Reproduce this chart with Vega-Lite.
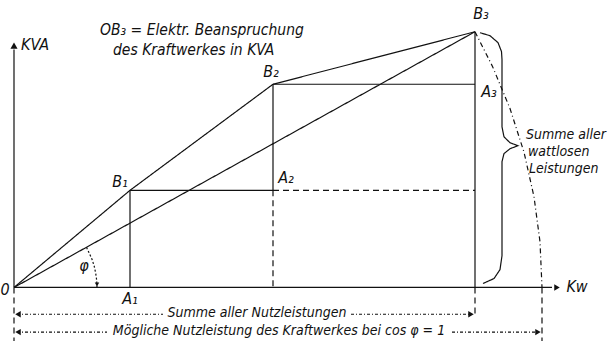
{
  "$schema": "https://vega.github.io/schema/vega-lite/v6.json",
  "width": 614,
  "height": 344,
  "autosize": {"type": "fit", "contains": "padding"},
  "padding": 0,
  "background": "white",
  "config": {"view": {"stroke": null}},
  "datasets": {
    "lines": [
      {"role": "main", "id": "OB", "ord": 0, "x": 0, "y": 0},
      {"role": "main", "id": "OB", "ord": 1, "x": 116, "y": 98},
      {"role": "main", "id": "OB", "ord": 2, "x": 259, "y": 205},
      {"role": "main", "id": "OB", "ord": 3, "x": 461, "y": 258},
      {"role": "main", "id": "OB3", "ord": 0, "x": 0, "y": 0},
      {"role": "main", "id": "OB3", "ord": 1, "x": 461, "y": 258},
      {"role": "main", "id": "xaxis", "ord": 0, "x": 0, "y": 0},
      {"role": "main", "id": "xaxis", "ord": 1, "x": 538, "y": 0},
      {"role": "main", "id": "yaxis", "ord": 0, "x": 0, "y": 0},
      {"role": "main", "id": "yaxis", "ord": 1, "x": 0, "y": 240},
      {"role": "main", "id": "B1A1", "ord": 0, "x": 116, "y": 98},
      {"role": "main", "id": "B1A1", "ord": 1, "x": 116, "y": 0},
      {"role": "main", "id": "B1A2", "ord": 0, "x": 116, "y": 98},
      {"role": "main", "id": "B1A2", "ord": 1, "x": 259, "y": 98},
      {"role": "main", "id": "B2A2", "ord": 0, "x": 259, "y": 205},
      {"role": "main", "id": "B2A2", "ord": 1, "x": 259, "y": 98},
      {"role": "main", "id": "B2A3", "ord": 0, "x": 259, "y": 205},
      {"role": "main", "id": "B2A3", "ord": 1, "x": 461, "y": 205},
      {"role": "main", "id": "B3X", "ord": 0, "x": 461, "y": 258},
      {"role": "main", "id": "B3X", "ord": 1, "x": 461, "y": 0},
      {"role": "dashed", "id": "A2A3", "ord": 0, "x": 259, "y": 98},
      {"role": "dashed", "id": "A2A3", "ord": 1, "x": 461, "y": 98},
      {"role": "dashed", "id": "A2X", "ord": 0, "x": 259, "y": 98},
      {"role": "dashed", "id": "A2X", "ord": 1, "x": 259, "y": 0},
      {"role": "dashed", "id": "ext0", "ord": 0, "x": 0, "y": 0},
      {"role": "dashed", "id": "ext0", "ord": 1, "x": 0, "y": -54},
      {"role": "dashed", "id": "ext3", "ord": 0, "x": 461, "y": 0},
      {"role": "dashed", "id": "ext3", "ord": 1, "x": 461, "y": -30},
      {"role": "dashed", "id": "extR", "ord": 0, "x": 528, "y": 0},
      {"role": "dashed", "id": "extR", "ord": 1, "x": 528, "y": -54},
      {"role": "arc", "id": "arcB3", "ord": 0, "x": 461, "y": 258},
      {"role": "arc", "id": "arcB3", "ord": 1, "x": 478.5, "y": 223},
      {"role": "arc", "id": "arcB3", "ord": 2, "x": 496, "y": 180.5},
      {"role": "arc", "id": "arcB3", "ord": 3, "x": 510, "y": 136.5},
      {"role": "arc", "id": "arcB3", "ord": 4, "x": 520, "y": 91.5},
      {"role": "arc", "id": "arcB3", "ord": 5, "x": 526, "y": 46},
      {"role": "arc", "id": "arcB3", "ord": 6, "x": 528, "y": 0},
      {"role": "phi", "id": "phi", "ord": 0, "x": 72.5, "y": 40.5},
      {"role": "phi", "id": "phi", "ord": 1, "x": 76, "y": 33},
      {"role": "phi", "id": "phi", "ord": 2, "x": 78, "y": 28.4},
      {"role": "phi", "id": "phi", "ord": 3, "x": 80.2, "y": 21.5},
      {"role": "phi", "id": "phi", "ord": 4, "x": 81.7, "y": 14.4},
      {"role": "phi", "id": "phi", "ord": 5, "x": 82.7, "y": 7.2},
      {"role": "phi", "id": "phi", "ord": 6, "x": 83, "y": 0},
      {"role": "brace", "id": "brace", "ord": 0, "x": 466, "y": 257},
      {"role": "brace", "id": "brace", "ord": 1, "x": 476, "y": 254},
      {"role": "brace", "id": "brace", "ord": 2, "x": 484, "y": 247},
      {"role": "brace", "id": "brace", "ord": 3, "x": 487.5, "y": 238},
      {"role": "brace", "id": "brace", "ord": 4, "x": 488, "y": 230},
      {"role": "brace", "id": "brace", "ord": 5, "x": 488, "y": 162},
      {"role": "brace", "id": "brace", "ord": 6, "x": 490, "y": 152},
      {"role": "brace", "id": "brace", "ord": 7, "x": 496, "y": 146},
      {"role": "brace", "id": "brace", "ord": 8, "x": 504, "y": 143},
      {"role": "brace", "id": "brace", "ord": 9, "x": 496, "y": 140},
      {"role": "brace", "id": "brace", "ord": 10, "x": 490, "y": 135},
      {"role": "brace", "id": "brace", "ord": 11, "x": 488, "y": 127},
      {"role": "brace", "id": "brace", "ord": 12, "x": 488, "y": 32},
      {"role": "brace", "id": "brace", "ord": 13, "x": 486, "y": 18},
      {"role": "brace", "id": "brace", "ord": 14, "x": 480, "y": 9},
      {"role": "brace", "id": "brace", "ord": 15, "x": 469, "y": 4},
      {"role": "dim", "id": "d1a", "ord": 0, "x": 3, "y": -27},
      {"role": "dim", "id": "d1a", "ord": 1, "x": 149, "y": -27},
      {"role": "dim", "id": "d1b", "ord": 0, "x": 337, "y": -27},
      {"role": "dim", "id": "d1b", "ord": 1, "x": 458, "y": -27},
      {"role": "dim", "id": "d2a", "ord": 0, "x": 3, "y": -45},
      {"role": "dim", "id": "d2a", "ord": 1, "x": 93, "y": -45},
      {"role": "dim", "id": "d2b", "ord": 0, "x": 438, "y": -45},
      {"role": "dim", "id": "d2b", "ord": 1, "x": 525, "y": -45}
    ],
    "arrows": [
      {"dir": "right", "x": 543, "y": 0},
      {"dir": "right", "x": 457, "y": -27},
      {"dir": "right", "x": 524, "y": -45},
      {"dir": "left", "x": 4, "y": -27},
      {"dir": "left", "x": 4, "y": -45},
      {"dir": "up", "x": 0, "y": 244},
      {"dir": "down", "x": 83, "y": 3}
    ],
    "labels": [
      {"label": "0", "x": -9, "y": -3},
      {"label": "A₁", "x": 116, "y": -12},
      {"label": "B₁", "x": 106, "y": 106},
      {"label": "A₂", "x": 272, "y": 110},
      {"label": "B₂", "x": 257, "y": 217},
      {"label": "A₃", "x": 475, "y": 197},
      {"label": "B₃", "x": 467, "y": 276},
      {"label": "Kw", "x": 563, "y": 0},
      {"label": "φ", "x": 70, "y": 22},
      {"label": "KVA", "x": 21, "y": 245}
    ],
    "dims": [
      {"label": "Summe aller Nutzleistungen", "x": 243, "y": -26},
      {"label": "Mögliche Nutzleistung des Kraftwerkes bei cos φ = 1", "x": 265, "y": -44}
    ],
    "notes": [
      {"label": "OB₃ = Elektr. Beanspruchung", "x": 86, "y": 260},
      {"label": "des Kraftwerkes in KVA", "x": 99, "y": 240}
    ],
    "brace_notes": [
      {"label": "Summe aller", "x": 512, "y": 154},
      {"label": "wattlosen", "x": 514, "y": 137},
      {"label": "Leistungen", "x": 515, "y": 120}
    ]
  },
  "encoding": {
    "x": {"field": "x", "type": "quantitative", "scale": {"domain": [-14, 600], "nice": false, "zero": false}, "axis": null},
    "y": {"field": "y", "type": "quantitative", "scale": {"domain": [-54, 290], "nice": false, "zero": false}, "axis": null}
  },
  "layer": [
    {
      "data": {"name": "lines"},
      "mark": {"type": "line", "color": "#111", "strokeWidth": 1.2, "interpolate": "linear"},
      "encoding": {
        "detail": {"field": "id", "type": "nominal"},
        "order": {"field": "ord", "type": "quantitative"},
        "strokeDash": {
          "field": "role", "type": "nominal", "legend": null,
          "scale": {
            "domain": ["main", "dashed", "arc", "phi", "brace", "dim"],
            "range": [[1, 0], [6, 4], [5, 3, 1, 3], [2, 2], [1, 0], [3, 2, 1, 2]]
          }
        }
      }
    },
    {
      "data": {"name": "arrows"},
      "transform": [{"filter": "datum.dir === 'right'"}],
      "mark": {"type": "point", "shape": "triangle-right", "filled": true, "color": "#111", "size": 40, "opacity": 1}
    },
    {
      "data": {"name": "arrows"},
      "transform": [{"filter": "datum.dir === 'left'"}],
      "mark": {"type": "point", "shape": "triangle-left", "filled": true, "color": "#111", "size": 40, "opacity": 1}
    },
    {
      "data": {"name": "arrows"},
      "transform": [{"filter": "datum.dir === 'up'"}],
      "mark": {"type": "point", "shape": "triangle-up", "filled": true, "color": "#111", "size": 50, "opacity": 1}
    },
    {
      "data": {"name": "arrows"},
      "transform": [{"filter": "datum.dir === 'down'"}],
      "mark": {"type": "point", "shape": "triangle-down", "filled": true, "color": "#111", "size": 20, "opacity": 1}
    },
    {
      "data": {"name": "labels"},
      "mark": {"type": "text", "font": "DejaVu Sans Condensed, Liberation Sans Narrow, DejaVu Sans", "fontStyle": "italic", "fontSize": 16, "color": "#111", "align": "center", "baseline": "middle"},
      "encoding": {"text": {"field": "label", "type": "nominal"}}
    },
    {
      "data": {"name": "dims"},
      "mark": {"type": "text", "font": "DejaVu Sans Condensed, Liberation Sans Narrow, DejaVu Sans", "fontStyle": "italic", "fontSize": 14, "color": "#111", "align": "center", "baseline": "middle"},
      "encoding": {"text": {"field": "label", "type": "nominal"}}
    },
    {
      "data": {"name": "notes"},
      "mark": {"type": "text", "font": "DejaVu Sans Condensed, Liberation Sans Narrow, DejaVu Sans", "fontStyle": "italic", "fontSize": 15.5, "color": "#111", "align": "left", "baseline": "middle"},
      "encoding": {"text": {"field": "label", "type": "nominal"}}
    },
    {
      "data": {"name": "brace_notes"},
      "mark": {"type": "text", "font": "DejaVu Sans Condensed, Liberation Sans Narrow, DejaVu Sans", "fontStyle": "italic", "fontSize": 14, "color": "#111", "align": "left", "baseline": "middle"},
      "encoding": {"text": {"field": "label", "type": "nominal"}}
    }
  ]
}
